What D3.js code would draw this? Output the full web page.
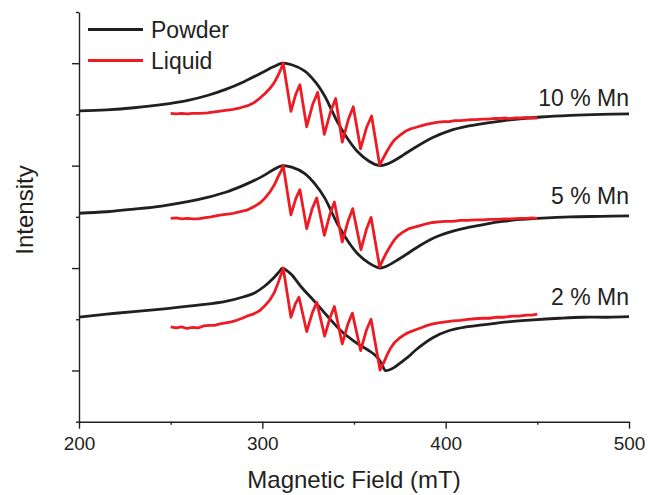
<!DOCTYPE html>
<html>
<head>
<meta charset="utf-8">
<script src="https://cdn.jsdelivr.net/npm/d3@7"></script>
<style>
  body { margin: 0; background: #fff; }
  svg { display: block; font-family: "Liberation Sans", Arial, sans-serif; }
  text { fill: #231f20; }
</style>
</head>
<body>
<div id="chart"></div>
<script>
// EPR spectra, [field (mT), signal relative to its offset]
var samples = ["10 % Mn", "5 % Mn", "2 % Mn"];
var offsets = [6, 4, 2];

var powder10 = [[200,0.07],[215,0.09],[230,0.13],[245,0.19],[260,0.28],[270,0.37],[280,0.49],[290,0.64],[300,0.82],[306,0.93],[311,1.0],[316,0.97],[323,0.85],[329,0.63],[334,0.36],[338,0.07],[341,-0.15],[347,-0.5],[352,-0.73],[358,-0.91],[364,-1.0],[368,-0.97],[372,-0.9],[377,-0.79],[384,-0.63],[393,-0.45],[402,-0.32],[412,-0.23],[422,-0.17],[432,-0.12],[442,-0.08],[452,-0.05],[468,-0.02],[485,0.0],[500,0.01]];
var powder5 = [[200,0.07],[215,0.1],[230,0.15],[245,0.21],[260,0.3],[270,0.38],[280,0.48],[290,0.62],[300,0.79],[306,0.92],[311,1.0],[316,0.97],[323,0.85],[329,0.63],[334,0.37],[338,0.08],[341,-0.14],[347,-0.49],[352,-0.72],[358,-0.9],[364,-1.0],[368,-0.96],[372,-0.88],[377,-0.77],[386,-0.56],[395,-0.39],[404,-0.28],[413,-0.2],[422,-0.14],[431,-0.09],[441,-0.05],[450,-0.03],[468,0.0],[485,0.01],[500,0.02]];
var powder2 = [[200,0.04],[215,0.1],[230,0.15],[248,0.21],[266,0.28],[280,0.35],[290,0.44],[296,0.52],[301,0.64],[306,0.8],[309,0.92],[311,1.0],[313,0.96],[316,0.87],[321.5,0.62],[328.7,0.34],[335.8,0.05],[343.3,-0.24],[350.5,-0.44],[357.6,-0.6],[362.4,-0.73],[365,-0.86],[367,-1.0],[369,-0.99],[372,-0.94],[375,-0.86],[380,-0.72],[384,-0.59],[393,-0.36],[402,-0.22],[411,-0.15],[420,-0.11],[434,-0.05],[448,-0.01],[462,0.02],[475,0.04],[488,0.04],[500,0.05]];

var liquid10 = [[250,0.02],[253,0.01],[256,0.02],[259,0.01],[262,0.02],[266,0.02],[270,0.03],[274,0.05],[280,0.08],[284,0.1],[288,0.13],[292,0.17],[295.5,0.23],[298.7,0.32],[301.5,0.41],[304.2,0.51],[306.5,0.62],[308.7,0.77],[310.3,0.9],[311.4,1.0],[315.6,0.06],[318.3,0.4],[320.5,0.58],[324.2,-0.24],[327.5,0.2],[330.2,0.43],[333.8,-0.39],[337.2,0.05],[340,0.31],[343.6,-0.54],[346.9,-0.1],[349.6,0.15],[353.6,-0.67],[356.9,-0.25],[359.6,-0.03],[364,-0.99],[366,-0.85],[368,-0.72],[370,-0.6],[372,-0.5],[375,-0.41],[378,-0.33],[381,-0.28],[384,-0.25],[387,-0.22],[390,-0.19],[393,-0.17],[396,-0.15],[399,-0.14],[402,-0.14],[405,-0.12],[408,-0.12],[411,-0.11],[414,-0.1],[417,-0.1],[420,-0.09],[423,-0.09],[426,-0.08],[429,-0.08],[432,-0.07],[435,-0.08],[438,-0.07],[441,-0.07],[444,-0.06],[447,-0.07],[450,-0.07]];
var liquid5 = [[250,-0.03],[253,-0.02],[256,-0.04],[259,-0.03],[262,-0.04],[265,-0.04],[268,-0.02],[272,0.0],[276,0.03],[280,0.05],[284,0.07],[288,0.1],[291.5,0.13],[295,0.19],[298.7,0.27],[301.5,0.37],[304.2,0.49],[306.5,0.62],[308.7,0.79],[310.3,0.9],[311.4,1.0],[315.6,0.04],[318.3,0.36],[320.5,0.53],[324.2,-0.23],[327.2,0.16],[329.7,0.37],[333.8,-0.36],[336.8,0.04],[339.3,0.29],[343.6,-0.49],[346.8,-0.08],[349.3,0.16],[353.8,-0.64],[356.8,-0.24],[359.3,-0.01],[364,-0.98],[366,-0.82],[368,-0.68],[370,-0.56],[372,-0.45],[374,-0.37],[377,-0.29],[380,-0.23],[383,-0.2],[386,-0.17],[390,-0.13],[393,-0.11],[396,-0.1],[400,-0.09],[404,-0.09],[408,-0.07],[412,-0.07],[416,-0.06],[420,-0.06],[424,-0.05],[428,-0.05],[432,-0.04],[436,-0.04],[440,-0.03],[444,-0.03],[447,-0.02],[450,-0.03]];
var liquid2 = [[250,-0.15],[253,-0.17],[256,-0.15],[259,-0.18],[262,-0.16],[265,-0.17],[268,-0.13],[271,-0.12],[274,-0.12],[277,-0.09],[280,-0.07],[283,-0.05],[286,-0.02],[289,0.02],[291.5,0.06],[295,0.1],[298.7,0.17],[301.5,0.27],[304.2,0.38],[306.5,0.52],[308.7,0.72],[310.3,0.88],[311.4,1.0],[315.6,0.04],[318,0.3],[320,0.43],[324.2,-0.24],[327.2,0.12],[329.7,0.33],[334,-0.33],[336.9,0.03],[339.3,0.25],[343.6,-0.48],[346.6,-0.1],[349.1,0.12],[353.6,-0.61],[356.7,-0.22],[359.3,0.0],[364.2,-0.99],[366,-0.86],[368,-0.7],[370,-0.56],[372,-0.46],[375,-0.36],[378,-0.29],[381,-0.24],[384,-0.2],[387,-0.16],[390,-0.12],[393,-0.09],[396,-0.07],[400,-0.05],[404,-0.03],[408,-0.02],[412,0.0],[416,0.01],[420,0.02],[424,0.02],[428,0.04],[432,0.04],[436,0.06],[440,0.06],[444,0.08],[447,0.08],[450,0.1]];

var powderData = [powder10, powder5, powder2];
var liquidData = [liquid10, liquid5, liquid2];

var xMajor = [200, 300, 400, 500];
var xMinor = [250, 350, 450];
var yMajor = [1, 3, 5, 7];
var yMinor = [0, 2, 4, 6, 8];

var width = 648, height = 495;
var ink = "#231f20", red = "#ed1c24";

var svg = d3.select("#chart").append("svg")
    .attr("width", width)
    .attr("height", height);

var x = d3.scaleLinear().domain([200, 500]).range([79, 629]);
var y = d3.scaleLinear().domain([0, 8]).range([421.7, 12]);

// axes
var gx = svg.append("g").attr("transform", "translate(0," + y(0) + ")");
gx.call(d3.axisBottom(x).tickValues(xMajor).tickSize(7).tickSizeOuter(0).tickPadding(8));
gx.append("g").call(d3.axisBottom(x).tickValues(xMinor).tickSize(3).tickFormat(""))
  .select(".domain").remove();

var gy = svg.append("g").attr("transform", "translate(" + x(200) + ",0)");
gy.call(d3.axisLeft(y).tickValues(yMajor).tickSize(7).tickSizeOuter(0).tickFormat(""));
gy.append("g").call(d3.axisLeft(y).tickValues(yMinor).tickSize(3).tickFormat(""))
  .select(".domain").remove();

svg.selectAll(".domain, .tick line").attr("stroke", ink).attr("stroke-width", 1.4);
gx.selectAll(".tick text")
  .style("font-size", "19px")
  .style("font-family", "'Liberation Sans', Arial, sans-serif")
  .attr("fill", ink);

// curves: smooth powder, raw liquid
function lineFor(k, curve) {
  return d3.line()
    .x(function(d) { return x(d[0]); })
    .y(function(d) { return y(d[1] + offsets[k]); })
    .curve(curve);
}

powderData.forEach(function(s, k) {
  svg.append("path").datum(s)
    .attr("d", lineFor(k, d3.curveCatmullRom.alpha(0.5)))
    .attr("fill", "none")
    .attr("stroke", ink)
    .attr("stroke-width", 2.8)
    .attr("stroke-linejoin", "round");
});
liquidData.forEach(function(s, k) {
  svg.append("path").datum(s)
    .attr("d", lineFor(k, d3.curveLinear))
    .attr("fill", "none")
    .attr("stroke", red)
    .attr("stroke-width", 2.8)
    .attr("stroke-linejoin", "round");
});

// sample labels
svg.selectAll(".sample").data(samples).enter().append("text")
  .attr("class", "sample")
  .attr("x", x(500))
  .attr("y", function(d, i) { return [106, 204, 305][i]; })
  .attr("text-anchor", "end")
  .style("font-size", "23px")
  .text(function(d) { return d; });

// legend
var legend = [["Powder", ink], ["Liquid", red]];
legend.forEach(function(d, i) {
  var ly = 29.5 + i * 31;
  svg.append("line")
    .attr("x1", 88).attr("x2", 143)
    .attr("y1", ly).attr("y2", ly)
    .attr("stroke", d[1]).attr("stroke-width", 2.8);
  svg.append("text")
    .attr("x", 151).attr("y", ly + 8)
    .style("font-size", "23px")
    .text(d[0]);
});

// axis titles
svg.append("text")
  .attr("x", (x(200) + x(500)) / 2)
  .attr("y", 488)
  .attr("text-anchor", "middle")
  .style("font-size", "24px")
  .text("Magnetic Field (mT)");

svg.append("text")
  .attr("transform", "translate(33,210) rotate(-90)")
  .attr("text-anchor", "middle")
  .style("font-size", "24px")
  .text("Intensity");
</script>
</body>
</html>
